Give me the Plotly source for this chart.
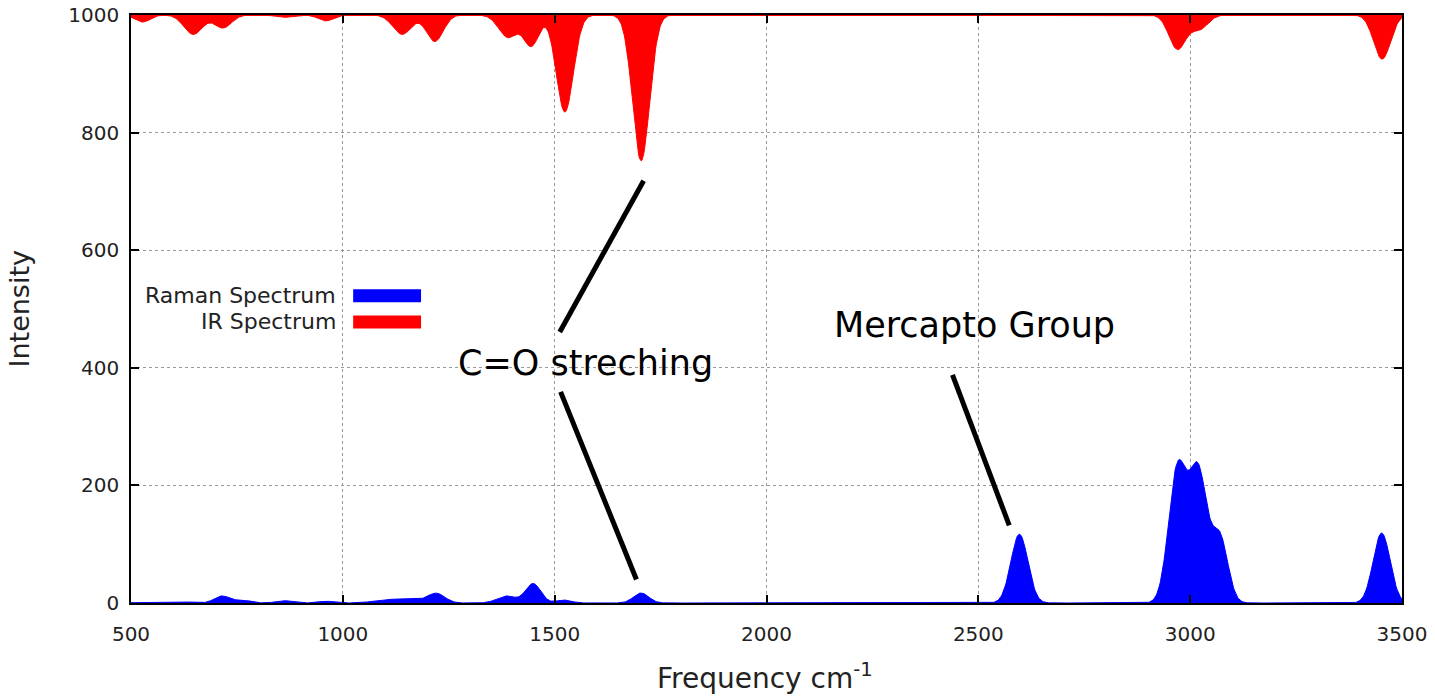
import numpy as np
import plotly.graph_objects as go

# Band tables: position (cm^-1), height, gaussian sigma (cm^-1)
raman_pos = [530, 620, 715, 765, 860, 960, 1100, 1160, 1221, 1386, 1449, 1521, 1704,
             2597, 2970, 3019, 3070, 3452]
raman_int = [1, 2, 12, 5, 4, 3, 5, 6, 16, 12, 33, 5, 17,
             117, 226, 220, 110, 119]
raman_wid = [25, 25, 18, 18, 18, 18, 30, 30, 20, 22, 18, 18, 18,
             20, 21, 21, 19, 20]

ir_pos = [527, 647, 717, 860, 960, 1140, 1217, 1390, 1445, 1524, 1704, 2970, 3022, 3453]
ir_depth = [12, 33, 22, 4, 10, 33, 45, 38, 52, 165, 248, 58, 24, 75]
ir_wid = [18, 22, 20, 18, 18, 22, 20, 22, 18, 20, 20, 20, 20, 20]

freq = np.arange(500, 3501, 2.0)


def broaden(pos, amp, wid):
    out = np.zeros_like(freq)
    for p, a, w in zip(pos, amp, wid):
        out += a * np.exp(-0.5 * ((freq - p) / w) ** 2)
    return out


raman = broaden(raman_pos, raman_int, raman_wid)
ir = 1000 - broaden(ir_pos, ir_depth, ir_wid)

fig = go.Figure()
fig.add_trace(go.Scatter(x=freq, y=raman, mode="lines", fill="tozeroy",
                         line=dict(color="#0000ff", width=1), fillcolor="#0000ff",
                         name="Raman Spectrum", showlegend=False))
fig.add_trace(go.Scatter(x=[500, 3500], y=[1000, 1000], mode="lines",
                         line=dict(color="#ff0000", width=2), showlegend=False,
                         hoverinfo="skip"))
fig.add_trace(go.Scatter(x=freq, y=ir, mode="lines", fill="tonexty",
                         line=dict(color="#ff0000", width=1), fillcolor="#ff0000",
                         name="IR Spectrum", showlegend=False))

font = "DejaVu Sans, sans-serif"

# pointer lines
pointers = [((1710, 718), (1512, 461)),
            ((1514, 359), (1693, 40)),
            ((2439, 388), (2573, 132))]
shapes = []
for (x0, y0), (x1, y1) in pointers:
    shapes.append(dict(type="line", xref="x", yref="y", x0=x0, y0=y0, x1=x1, y1=y1,
                       line=dict(color="black", width=5)))

# key swatches
key = [("Raman Spectrum", "#0000ff", 0.5225), ("IR Spectrum", "#ff0000", 0.478)]
annotations = []
for label, col, yy in key:
    shapes.append(dict(type="rect", xref="paper", yref="paper",
                       x0=0.1748, x1=0.2282, y0=yy - 0.011, y1=yy + 0.011,
                       fillcolor=col, line=dict(width=0)))
    annotations.append(dict(text=label, xref="paper", yref="paper", x=0.1632, y=yy,
                            xanchor="right", yanchor="middle", showarrow=False,
                            font=dict(family=font, size=22, color="#222")))

annotations += [
    dict(text="C=O streching", x=1573, y=408, xref="x", yref="y", showarrow=False,
         font=dict(family=font, size=35, color="black")),
    dict(text="Mercapto Group", x=2492, y=472, xref="x", yref="y", showarrow=False,
         font=dict(family=font, size=35, color="black")),
    dict(text="Intensity", xref="paper", yref="paper", x=-0.0885, y=0.5,
         xanchor="center", yanchor="middle", textangle=-90, showarrow=False,
         font=dict(family=font, size=27, color="#222")),
    dict(text="Frequency cm<sup>-1</sup>", xref="paper", yref="paper", x=0.499, y=-0.125,
         xanchor="center", yanchor="middle", showarrow=False,
         font=dict(family=font, size=28, color="#222")),
]

axis_common = dict(showline=True, linecolor="black", linewidth=1.5, mirror="ticks",
                   ticks="inside", ticklen=8, tickwidth=1.5, tickcolor="black",
                   showgrid=True, gridcolor="#999", griddash="dot", gridwidth=1,
                   zeroline=False, automargin=False,
                   tickfont=dict(family=font, size=20, color="#222"))

fig.update_layout(
    width=1435, height=696,
    margin=dict(l=131, r=33, t=15, b=93),
    paper_bgcolor="white", plot_bgcolor="white",
    xaxis=dict(range=[500, 3500], tickvals=[500, 1000, 1500, 2000, 2500, 3000, 3500],
               ticklabelstandoff=12, **axis_common),
    yaxis=dict(range=[0, 1000], tickvals=[0, 200, 400, 600, 800, 1000],
               ticklabelstandoff=6, **axis_common),
    shapes=shapes, annotations=annotations, showlegend=False,
)

fig.write_html("out.html")
